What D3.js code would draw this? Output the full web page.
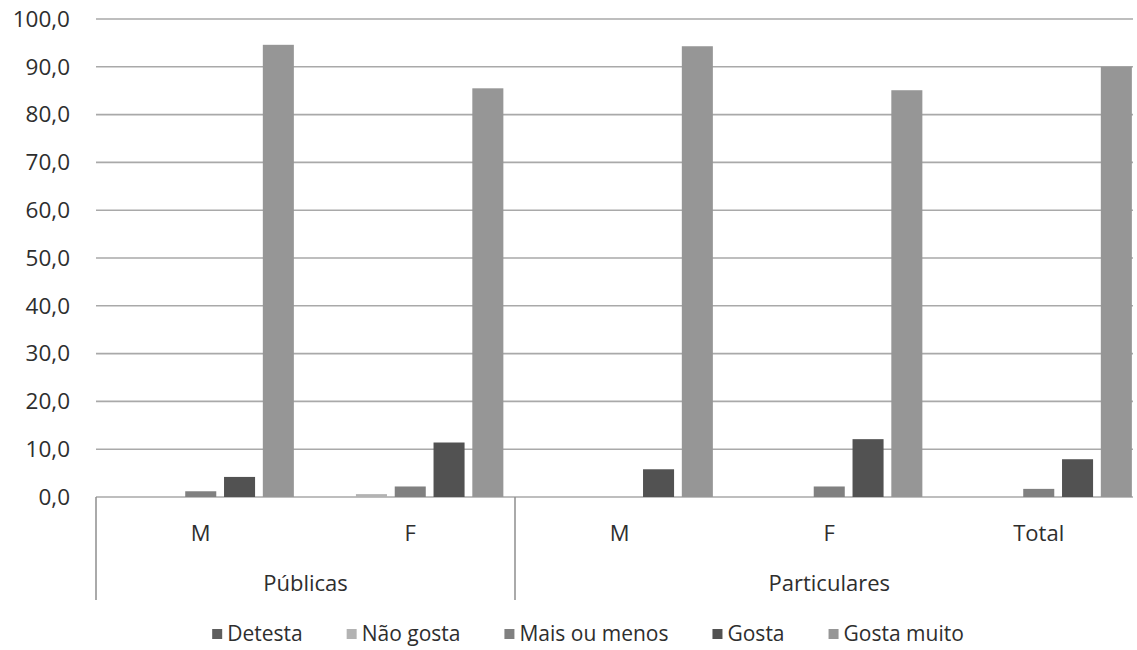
<!DOCTYPE html>
<html>
<head>
<meta charset="utf-8">
<script src="https://cdn.jsdelivr.net/npm/d3@7"></script>
<style>
  html, body { margin: 0; padding: 0; background: #fff; }
  svg { display: block; font-family: "Open Sans", sans-serif; }
</style>
</head>
<body>
<svg id="chart" width="1137" height="650"></svg>
<script>
// Category rows: sex within school type, plus the overall total
const categories = ["M", "F", "M", "F", "Total"];
const schoolGroups = [
  { name: "Públicas", span: 2 },
  { name: "Particulares", span: 3 }
];
const seriesNames = ["Detesta", "Não gosta", "Mais ou menos", "Gosta", "Gosta muito"];
const seriesColors = ["#5e5e5e", "#b3b3b3", "#808080", "#525252", "#969696"];

// Percentages per category, one array per answer
const detesta     = [0.0, 0.0, 0.0, 0.0, 0.0];
const naoGosta    = [0.0, 0.6, 0.0, 0.0, 0.0];
const maisOuMenos = [1.2, 2.2, 0.0, 2.2, 1.7];
const gosta       = [4.2, 11.4, 5.8, 12.1, 7.9];
const gostaMuito  = [94.6, 85.5, 94.3, 85.1, 90.0];
const seriesValues = [detesta, naoGosta, maisOuMenos, gosta, gostaMuito];

const yTicks = [0, 10, 20, 30, 40, 50, 60, 70, 80, 90, 100];

const svg = d3.select("#chart");
const W = 1137, H = 650;
const margin = { left: 96, top: 19 };
const plotW = 1047.5, plotH = 478;
const tickFmt = v => d3.format(".1f")(v).replace(".", ",");
const textColor = "#2e2e2e";

const g = svg.append("g").attr("transform", `translate(${margin.left},${margin.top})`);

svg.append("clipPath").attr("id", "plotClip")
  .append("rect").attr("x", 0).attr("y", -10).attr("width", W - 4 - margin.left).attr("height", H);

const x0 = d3.scaleBand().domain(d3.range(categories.length)).range([0, plotW]);
const x1 = d3.scaleBand().domain(d3.range(seriesNames.length))
  .range([0, x0.bandwidth()]).paddingInner(0.2).paddingOuter(0.3);
const y = d3.scaleLinear().domain([0, 100]).range([plotH, 0]);

// Horizontal gridlines
const grid = g.append("g").attr("clip-path", "url(#plotClip)");
grid.selectAll("line.grid").data(yTicks.filter(d => d > 0)).join("line")
  .attr("class", "grid")
  .attr("x1", 0).attr("x2", plotW)
  .attr("y1", d => y(d)).attr("y2", d => y(d))
  .attr("stroke", "#a9a9a9").attr("stroke-width", 1.6);

// Y tick labels
g.append("g").selectAll("text").data(yTicks).join("text")
  .attr("x", -26).attr("y", d => y(d)).attr("dy", "0.35em")
  .attr("text-anchor", "end")
  .attr("font-size", 22.5).attr("fill", textColor)
  .text(tickFmt);

// Bars
const bars = g.append("g").attr("clip-path", "url(#plotClip)");
seriesNames.forEach((name, si) => {
  bars.append("g").selectAll("rect").data(seriesValues[si]).join("rect")
    .attr("x", (d, ci) => x0(ci) + x1(si))
    .attr("width", x1.bandwidth())
    .attr("y", d => y(d))
    .attr("height", d => y(0) - y(d))
    .attr("fill", seriesColors[si]);
});

// Category axis baseline
grid.append("line")
  .attr("x1", 0).attr("x2", plotW).attr("y1", y(0)).attr("y2", y(0))
  .attr("stroke", "#a9a9a9").attr("stroke-width", 1.6);

// Group separators of the two-level category axis
const sepBottom = y(0) + 103;
let bounds = [0];
let acc = 0;
schoolGroups.forEach(gr => { acc += gr.span; bounds.push(acc); });
g.append("g").selectAll("line").data(bounds).join("line")
  .attr("x1", d => d === categories.length ? plotW : x0(d))
  .attr("x2", d => d === categories.length ? plotW : x0(d))
  .attr("y1", y(0)).attr("y2", sepBottom)
  .attr("stroke", "#8e8e8e").attr("stroke-width", 1.5);

// Inner category labels
g.append("g").selectAll("text").data(categories).join("text")
  .attr("x", (d, i) => x0(i) + x0.bandwidth() / 2)
  .attr("y", y(0) + 36).attr("dy", "0.35em")
  .attr("text-anchor", "middle")
  .attr("font-size", 22).attr("fill", textColor)
  .text(d => d);

// Outer group labels
g.append("g").selectAll("text").data(schoolGroups).join("text")
  .attr("x", (d, i) => (x0(bounds[i]) + (bounds[i + 1] === categories.length ? plotW : x0(bounds[i + 1]))) / 2)
  .attr("y", y(0) + 86).attr("dy", "0.35em")
  .attr("text-anchor", "middle")
  .attr("font-size", 22).attr("fill", textColor)
  .text(d => d.name);

// Legend, centred below the chart
const legend = svg.append("g");
const items = legend.selectAll("g").data(seriesNames).join("g");
items.append("rect").attr("width", 10).attr("height", 10).attr("y", -5)
  .attr("fill", (d, i) => seriesColors[i]);
items.append("text").attr("x", 15).attr("dy", "0.35em")
  .attr("font-size", 21).attr("fill", textColor).text(d => d);
const legendGap = 44;
let lx = 0;
items.each(function () {
  const node = d3.select(this);
  node.attr("transform", `translate(${lx},0)`);
  lx += this.getBBox().width + legendGap;
});
const legendW = lx - legendGap;
legend.attr("transform", `translate(${588 - legendW / 2},634)`);
</script>
</body>
</html>
